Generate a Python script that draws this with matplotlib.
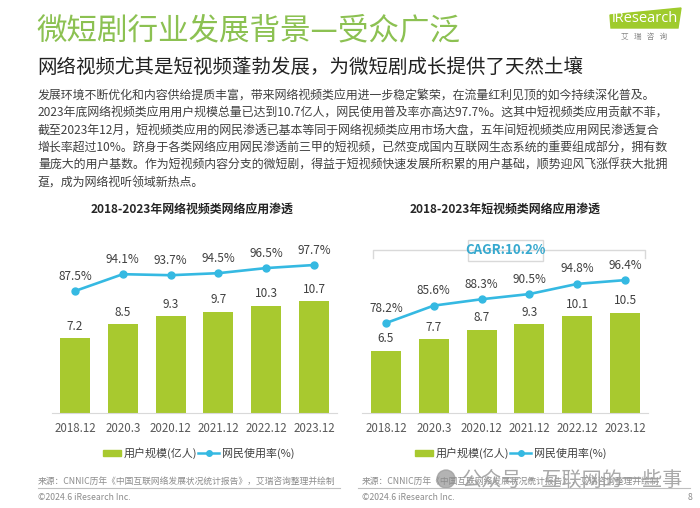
import matplotlib.pyplot as plt
from matplotlib.patches import Rectangle, Polygon, Ellipse
from matplotlib.lines import Line2D

plt.rcParams['font.family'] = ['Noto Sans CJK SC', 'DejaVu Sans']

periods = ['2018.12', '2020.3', '2020.12', '2021.12', '2022.12', '2023.12']
video_users = [7.2, 8.5, 9.3, 9.7, 10.3, 10.7]
video_rate = [87.5, 94.1, 93.7, 94.5, 96.5, 97.7]
short_users = [6.5, 7.7, 8.7, 9.3, 10.1, 10.5]
short_rate = [78.2, 85.6, 88.3, 90.5, 94.8, 96.4]

title = '微短剧行业发展背景—受众广泛'
subtitle = '网络视频尤其是短视频蓬勃发展，为微短剧成长提供了天然土壤'
paragraph = [
    '发展环境不断优化和内容供给提质丰富，带来网络视频类应用进一步稳定繁荣，在流量红利见顶的如今持续深化普及。',
    '2023年底网络视频类应用用户规模总量已达到10.7亿人，网民使用普及率亦高达97.7%。这其中短视频类应用贡献不菲，',
    '截至2023年12月，短视频类应用的网民渗透已基本等同于网络视频类应用市场大盘，五年间短视频类应用网民渗透复合',
    '增长率超过10%。跻身于各类网络应用网民渗透前三甲的短视频，已然变成国内互联网生态系统的重要组成部分，拥有数',
    '量庞大的用户基数。作为短视频内容分支的微短剧，得益于短视频快速发展所积累的用户基础，顺势迎风飞涨俘获大批拥',
    '趸，成为网络视听领域新热点。',
]
source = '来源：CNNIC历年《中国互联网络发展状况统计报告》，艾瑞咨询整理并绘制'

GREEN = '#a8c92f'
BLUE = '#35b9e2'
TEXT = '#404040'

W, H = 700, 508
fig = plt.figure(figsize=(7, 5.08), dpi=100)


def fx(x):
    return x / W


def fy(y):
    return 1 - y / H


def ftext(x, y, s, **kw):
    kw.setdefault('va', 'center')
    fig.text(fx(x), fy(y), s, **kw)


# header
ftext(36, 31, title, fontsize=22, color='#8cc152')
ftext(37, 67, subtitle, fontsize=14, color='#222222')
for i, line in enumerate(paragraph):
    ftext(38, 95 + i * 17.6, line, fontsize=8.6, color=TEXT)

# logo
fig.add_artist(Polygon([(fx(610), fy(15)), (fx(681), fy(8)), (fx(678), fy(28)), (fx(611), fy(28))],
                       closed=True, color='#9fcb2c', transform=fig.transFigure))
ftext(645, 19, 'iResearch', fontsize=10.5, color='white', ha='center', family='Open Sans')
ftext(644, 37, '艾   瑞   咨   询', fontsize=5.5, color='#888888', ha='center')


def panel(left, right, users, rate, xlim, ybar, yrate, ttl, tx):
    ax = fig.add_axes([fx(left), fy(413), (right - left) / W, 173 / H])
    x = list(range(len(periods)))
    ax.bar(x, users, width=0.63, color=GREEN, zorder=2)
    ax.set_xlim(*xlim)
    ax.set_ylim(*ybar)
    for i, v in enumerate(users):
        ax.annotate(f'{v}', (i, v), xytext=(0, 8.6), textcoords='offset points',
                    ha='center', va='center', fontsize=8.5, color=TEXT)
    ax.set_xticks(x, periods)
    ax.tick_params(axis='x', length=0, pad=6.5, labelsize=8.3, labelcolor='#595959')
    ax.set_yticks([])
    for s in ['top', 'left', 'right']:
        ax.spines[s].set_visible(False)
    ax.spines['bottom'].set_color('#d9d9d9')
    ax.patch.set_alpha(0)

    ax2 = ax.twinx()
    ax2.plot(x, rate, color=BLUE, lw=1.9, marker='o', ms=5, zorder=3)
    ax2.set_ylim(*yrate)
    ax2.axis('off')
    for i, v in enumerate(rate):
        ax2.annotate(f'{v}%', (i, v), xytext=(0, 10.8), textcoords='offset points',
                     ha='center', va='center', fontsize=8.5, color=TEXT)
    ftext(tx, 209, ttl, fontsize=8.6, weight='bold', color='#262626', ha='center')


panel(52, 337, video_users, video_rate, (-0.48, 5.48), (0, 16.6), (39.7, 107.5),
      '2018-2023年网络视频类网络应用渗透', 192)
panel(362, 648, short_users, short_rate, (-0.5, 5.48), (0, 18.1), (40.1, 113.4),
      '2018-2023年短视频类网络应用渗透', 505)

# CAGR bracket
fig.add_artist(Line2D([fx(373), fx(373), fx(645), fx(645)], [fy(258), fy(250), fy(250), fy(258)],
                      color='#d9d9d9', lw=1, transform=fig.transFigure))
fig.add_artist(Rectangle((fx(468), fy(261)), 75 / W, 21 / H, facecolor='white',
                         edgecolor='#d9d9d9', lw=1, transform=fig.transFigure))
ftext(505.5, 250.5, 'CAGR:10.2%', fontsize=9.5, weight='bold', color='#36a9cf', ha='center')

# legends
for off in [0, 312]:
    fig.add_artist(Rectangle((fx(103 + off), fy(456)), 18 / W, 6 / H, color=GREEN,
                             transform=fig.transFigure))
    ftext(124 + off, 453, '用户规模(亿人)', fontsize=7.9, color=TEXT)
    fig.add_artist(Line2D([fx(198 + off), fx(219 + off)], [fy(453), fy(453)], color=BLUE, lw=1.8,
                          transform=fig.transFigure))
    fig.add_artist(Line2D([fx(208.5 + off)], [fy(453)], color=BLUE, marker='o', ms=4,
                          transform=fig.transFigure))
    ftext(222 + off, 453, '网民使用率(%)', fontsize=7.9, color=TEXT)

# footer
ftext(38, 481, source, fontsize=6.3, color='#8c8c8c')
ftext(362, 481, source, fontsize=6.3, color='#8c8c8c')
fig.add_artist(Line2D([fx(38), fx(340)], [fy(488), fy(488)], color='#bfbfbf', lw=0.8,
                      transform=fig.transFigure))
fig.add_artist(Line2D([fx(358), fx(690)], [fy(488), fy(488)], color='#bfbfbf', lw=0.8,
                      transform=fig.transFigure))
ftext(38, 497, '©2024.6 iResearch Inc.', fontsize=6.3, color='#8c8c8c')
ftext(362, 497, '©2024.6 iResearch Inc.', fontsize=6.3, color='#8c8c8c')
ftext(690, 497, '8', fontsize=6.3, color='#8c8c8c', ha='center')

# watermark
fig.add_artist(Ellipse((fx(446), fy(479)), 18 / W, 18 / H, color='#a0a0a0', alpha=0.8,
                       transform=fig.transFigure))
ftext(462, 480, '公众号·互联网的一些事', fontsize=14.5, color='#9a9a9a', alpha=0.85)

fig.savefig('out.png', dpi=100)
